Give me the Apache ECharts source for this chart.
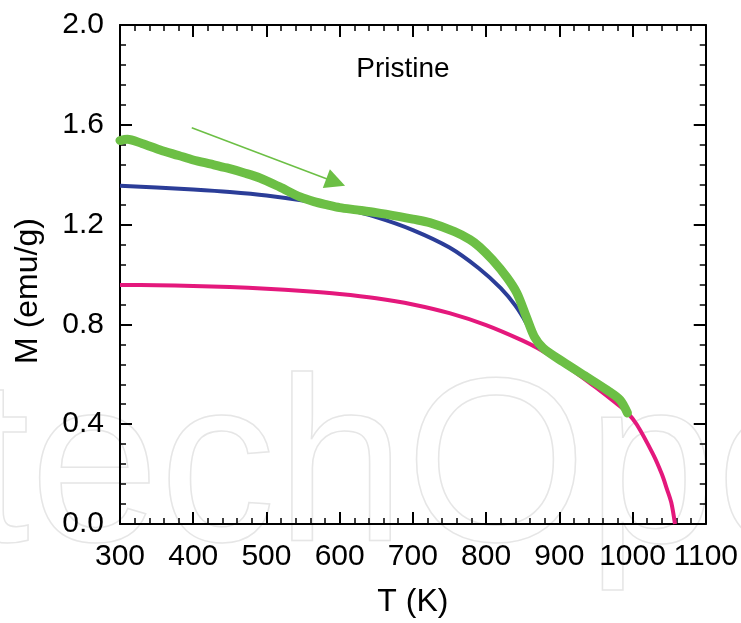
<!DOCTYPE html>
<html>
<head>
<meta charset="utf-8">
<script src="https://cdn.jsdelivr.net/npm/echarts@6/dist/echarts.min.js"></script>
<style>
html,body{margin:0;padding:0;background:#fff;}
#chart{width:741px;height:623px;}
</style>
</head>
<body>
<div id="chart"></div>
<script>
// ---- data ----
const tMagenta = [300, 350, 400, 450, 500, 550, 600, 650, 700, 750, 800, 850, 870, 900, 928, 950, 975, 992, 1006, 1028, 1040, 1047, 1053, 1058];
const mMagenta = [0.958, 0.957, 0.954, 0.950, 0.943, 0.934, 0.922, 0.905, 0.880, 0.845, 0.797, 0.735, 0.705, 0.652, 0.595, 0.547, 0.490, 0.449, 0.398, 0.280, 0.200, 0.140, 0.085, 0.0];

const tBlue = [300, 350, 400, 450, 500, 550, 600, 650, 700, 750, 790, 820, 840, 855, 865, 872];
const mBlue = [1.356, 1.349, 1.341, 1.331, 1.317, 1.296, 1.268, 1.230, 1.178, 1.108, 1.025, 0.945, 0.875, 0.805, 0.745, 0.705];

const tGreen = [300, 310, 330, 355, 380, 400, 425, 446, 470, 491, 518, 546, 565, 583, 600, 623, 650, 682, 700, 723, 757, 778, 791, 809, 828, 842, 855, 866, 878, 905, 937, 965, 983, 993];
const mGreen = [1.537, 1.542, 1.525, 1.499, 1.477, 1.459, 1.442, 1.427, 1.407, 1.387, 1.351, 1.311, 1.292, 1.279, 1.268, 1.259, 1.248, 1.232, 1.222, 1.208, 1.172, 1.140, 1.111, 1.058, 0.990, 0.926, 0.830, 0.750, 0.705, 0.650, 0.590, 0.537, 0.497, 0.445];

const arrowStart = [398, 1.588];
const arrowEnd = [594.6, 1.370];

const xTicks = [300, 400, 500, 600, 700, 800, 900, 1000, 1100];
const yTicks = [0.0, 0.4, 0.8, 1.2, 1.6, 2.0];

const annotation = 'Pristine';
const xTitle = 'T (K)';
const yTitle = 'M (emu/g)';

// ---- chart ----
const pairs = (xs, ys) => xs.map((x, i) => [x, ys[i]]);
const FONT = '"Liberation Sans", Arial, Helvetica, sans-serif';
const chart = echarts.init(document.getElementById('chart'), null, {renderer: 'canvas'});

const axisCommon = {
  axisLine: {show: true, onZero: false, lineStyle: {color: '#000', width: 2}},
  axisTick: {show: true, inside: true, length: 12, lineStyle: {color: '#000', width: 2}},
  minorTick: {show: true, splitNumber: 5, length: 6, lineStyle: {color: '#000', width: 1.5}},
  splitLine: {show: false},
  minorSplitLine: {show: false}
};

const option = {
  animation: false,
  backgroundColor: '#fff',
  grid: {left: 120, right: 35, top: 25, bottom: 99, containLabel: false},
  xAxis: [
    Object.assign({
      type: 'value', position: 'bottom', min: xTicks[0], max: xTicks[xTicks.length - 1], interval: 100,
      axisLabel: {show: true, color: '#000', fontSize: 30, fontFamily: FONT, margin: 18,
        formatter: v => xTicks.includes(v) ? String(v) : ''},
      name: xTitle, nameLocation: 'middle', nameGap: 62,
      nameTextStyle: {color: '#000', fontSize: 32, fontFamily: FONT}
    }, axisCommon),
    Object.assign({
      type: 'value', position: 'top', min: xTicks[0], max: xTicks[xTicks.length - 1], interval: 100,
      axisLabel: {show: false}
    }, axisCommon)
  ],
  yAxis: [
    Object.assign({
      type: 'value', position: 'left', min: yTicks[0], max: yTicks[yTicks.length - 1], interval: 0.4,
      axisLabel: {show: true, color: '#000', fontSize: 30, fontFamily: FONT, margin: 16,
        formatter: v => v.toFixed(1)}
    }, axisCommon),
    Object.assign({
      type: 'value', position: 'right', min: yTicks[0], max: yTicks[yTicks.length - 1], interval: 0.4,
      axisLabel: {show: false}
    }, axisCommon)
  ],
  graphic: [
    {
      type: 'text', silent: true, z: -10, x: -35, y: 360,
      style: {text: 'techOpen', font: '233px "Liberation Sans", Arial, sans-serif',
        fill: 'none', stroke: '#e6e6e6', lineWidth: 1.5}
    },
    {
      type: 'text', x: 28, y: 291, rotation: Math.PI / 2, z: 10,
      style: {text: yTitle, font: '32px "Liberation Sans", Arial, sans-serif', fill: '#000',
        align: 'center', verticalAlign: 'middle'}
    },
    {
      type: 'text', x: 403, y: 69, z: 10,
      style: {text: annotation, font: '28px "Liberation Sans", Arial, sans-serif', fill: '#000',
        align: 'center', verticalAlign: 'middle'}
    }
  ],
  series: [
    {
      type: 'line', data: pairs(tMagenta, mMagenta), showSymbol: false, smooth: 0.3,
      lineStyle: {color: '#e4187c', width: 4}, itemStyle: {color: '#e4187c'}, z: 3
    },
    {
      type: 'line', data: pairs(tBlue, mBlue), showSymbol: false, smooth: 0.3,
      lineStyle: {color: '#2b3d98', width: 4}, itemStyle: {color: '#2b3d98'}, z: 4
    },
    {
      type: 'line', data: pairs(tGreen, mGreen), showSymbol: false, smooth: 0.3,
      lineStyle: {color: '#6cbf45', width: 9, cap: 'round', join: 'round'}, itemStyle: {color: '#6cbf45'}, z: 5,
      markLine: {
        silent: true, animation: false,
        symbol: ['none', 'triangle'], symbolSize: 20,
        itemStyle: {color: '#6cbf45'},
        lineStyle: {color: '#6cbf45', width: 1.5, type: 'solid'},
        label: {show: false},
        emphasis: {disabled: true},
        data: [[{coord: arrowStart}, {coord: arrowEnd}]]
      }
    }
  ]
};
chart.setOption(option);
</script>
</body>
</html>
